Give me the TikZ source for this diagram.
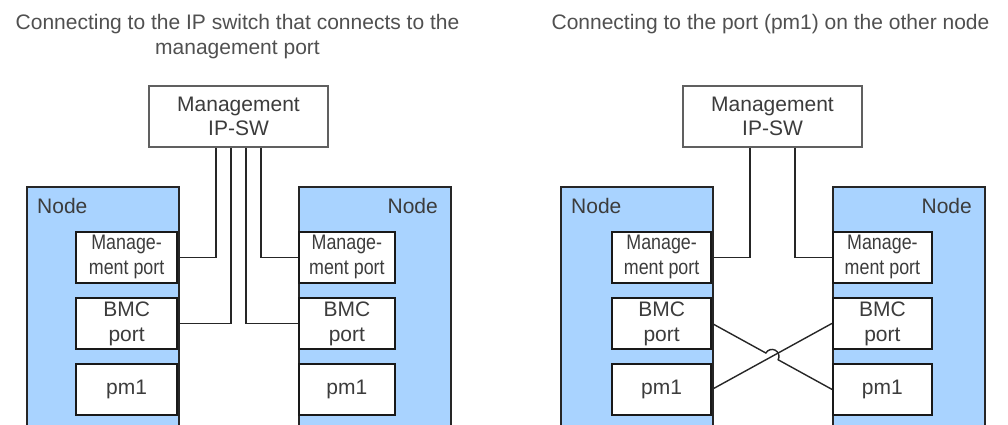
\documentclass[tikz,border=0pt]{standalone}
\usepackage{fontspec}
\setmainfont{Liberation Sans}
\newfontfamily\narrowsans[FakeStretch=0.85]{Liberation Sans}
\usetikzlibrary{positioning, calc}
\definecolor{nodeblue}{HTML}{A9D3FF}
\definecolor{textgray}{HTML}{3C3C3C}
\definecolor{swgray}{HTML}{606060}

\begin{document}
\begin{tikzpicture}[
  x=1pt, y=1pt,
  title/.style={font=\fontsize{21}{25}\selectfont, text=textgray!90, align=center, inner sep=0pt},
  switchbox/.style={draw=swgray, line width=2pt, fill=white, minimum width=179pt, minimum height=61pt, inner sep=0pt, align=center, text=textgray, font=\fontsize{21}{24}\selectfont},
  nodebox/.style={draw=black!85, line width=2pt, fill=nodeblue, minimum width=152pt, minimum height=260pt, inner sep=0pt},
  nodelabel/.style={font=\fontsize{21}{24}\selectfont, text=textgray, inner sep=0pt},
  portbox/.style={draw=black!90, line width=1.8pt, fill=white, minimum width=101pt, minimum height=51pt, inner sep=0pt, align=center, text=textgray, font=\fontsize{21}{25}\selectfont},
  wire/.style={draw=black!85, line width=1.4pt}
]
\useasboundingbox (0,0) rectangle (1008,-425);
\clip (0,0) rectangle (1008,-425);

% Panel 1: via the management IP switch
\node[title, anchor=base] (t1) at (237.5,-55) {Connecting to the IP switch that connects to the\\management port};
\node[switchbox] (sw1) at (238.5,-116.5) {Management\\IP-SW};
\node[nodebox, anchor=north west] (na) at (26,-186) {};
\node[nodelabel, anchor=base west] (la) at (37,-213) {Node};
\node[portbox, anchor=north east] (am) at (178,-231) {\narrowsans Manage-\\\narrowsans ment port};
\node[portbox, anchor=north east] (ab) at (178,-297) {BMC\\port};
\node[portbox, anchor=north east] (ap) at (178,-363) {pm1};
\node[nodebox, anchor=north west] (nb) at (298,-186) {};
\node[nodelabel, anchor=base east] (lb) at (438,-213) {Node};
\node[portbox, anchor=north west, minimum width=96pt] (bm) at (298,-231) {\narrowsans Manage-\\\narrowsans ment port};
\node[portbox, anchor=north west, minimum width=96pt] (bb) at (298,-297) {BMC\\port};
\node[portbox, anchor=north west, minimum width=96pt] (bp) at (298,-363) {pm1};
% Wires to the switch
\draw[wire] ([xshift=-22.5pt]sw1.south) |- (am);
\draw[wire] ([xshift=-7.5pt]sw1.south) |- (ab);
\draw[wire] ([xshift=7.5pt]sw1.south) |- (bb);
\draw[wire] ([xshift=22.5pt]sw1.south) |- (bm);

% Panel 2: BMC to pm1 of the other node
\node[title, anchor=base] (t2) at (770.5,-30) {Connecting to the port (pm1) on the other node};
\node[switchbox] (sw2) at (772.5,-116.5) {Management\\IP-SW};
\node[nodebox, anchor=north west] (nc) at (560,-186) {};
\node[nodelabel, anchor=base west] (lc) at (571,-213) {Node};
\node[portbox, anchor=north east, minimum width=99pt] (cm) at (712,-231) {\narrowsans Manage-\\\narrowsans ment port};
\node[portbox, anchor=north east, minimum width=99pt] (cb) at (712,-297) {BMC\\port};
\node[portbox, anchor=north east, minimum width=99pt] (cp) at (712,-363) {pm1};
\node[nodebox, anchor=north west] (nd) at (832,-186) {};
\node[nodelabel, anchor=base east] (ld) at (972,-213) {Node};
\node[portbox, anchor=north west, minimum width=99pt] (dm) at (832,-231) {\narrowsans Manage-\\\narrowsans ment port};
\node[portbox, anchor=north west, minimum width=99pt] (db) at (832,-297) {BMC\\port};
\node[portbox, anchor=north west, minimum width=99pt] (dp) at (832,-363) {pm1};
% Wires to the switch
\draw[wire] ([xshift=-22.5pt]sw2.south) |- (cm);
\draw[wire] ([xshift=22.5pt]sw2.south) |- (dm);
% Crossed wires, one hopping over the other
\coordinate (hop) at ($(cb.east)!0.5!(dp.west)$);
\draw[wire] (cp.east) -- (db.west);
\draw[wire] (cb.east) -- ($(hop)!7pt!(cb.east)$) arc[start angle=151.19, end angle=-28.81, radius=7pt] -- (dp.west);

\end{tikzpicture}
\end{document}
